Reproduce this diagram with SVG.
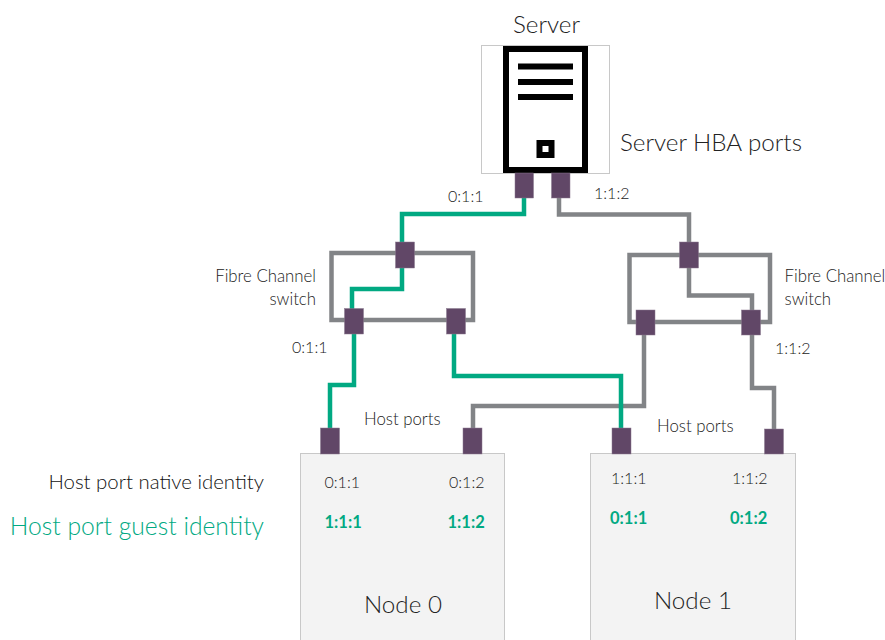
<svg xmlns="http://www.w3.org/2000/svg" width="885" height="640" viewBox="0 0 885 640">
<style>
text{font-family:"Lato","Open Sans","Liberation Sans",sans-serif;font-weight:300;fill:#222}
.l{font-size:24.200px}.m{font-size:16.800px}.d{font-size:16px}.g{fill:#01a982;font-weight:700;font-size:16.500px}
.c{fill:none;stroke-width:4.500}.gr{stroke:#01a982}.gy{stroke:#828487}
.p{fill:#614767;stroke:#8a7a8e;stroke-width:.5}
.n{fill:#f3f3f3;stroke:#c8c8c8;stroke-width:1}
</style>
<rect width="885" height="640" fill="#fff"/>
<g id="node0"><rect class="n" x="300.500" y="453.500" width="204" height="190"/>
<text class="d" x="324.500" y="487.500">0:1:1</text><text class="d" x="449" y="487.500">0:1:2</text>
<text class="g" x="324.500" y="527.500">1:1:1</text><text class="g" x="447.500" y="527.500">1:1:2</text>
<text class="l" x="364" y="612.500">Node 0</text></g>
<g id="node1"><rect class="n" x="590.500" y="453.500" width="205" height="190"/>
<text class="d" x="611" y="483.500">1:1:1</text><text class="d" x="732" y="483.500">1:1:2</text>
<text class="g" x="610" y="523.500">0:1:1</text><text class="g" x="730" y="523.500">0:1:2</text>
<text class="l" x="654" y="608.500">Node 1</text></g>
<g id="server"><text class="l" x="513" y="32.500">Server</text>
<rect x="481.500" y="45.500" width="128" height="128" fill="#fff" stroke="#c8c8c8"/>
<rect x="506" y="49" width="79" height="121" fill="#fff" stroke="#000" stroke-width="6"/>
<path d="M518 66.500H573M518 82H573M518 97H573" stroke="#000" stroke-width="6" fill="none"/>
<rect x="536.500" y="140" width="18" height="18" fill="#000"/><rect x="542.500" y="146" width="6" height="6" fill="#fff"/></g>
<g id="connectors">
<path class="c gy" d="M331.500 253H473V320H331.500Z"/>
<path class="c gy" d="M629.500 255H770V322H629.500Z"/>
<path class="c gy" d="M559 198V214.500H689V295.500H752V388H774V429"/>
<path class="c gy" d="M644 335V406H473V428"/>
<path class="c gr" d="M524 198V214H402V289H352V309"/>
<path class="c gr" d="M354 334V385H330V428"/>
<path class="c gr" d="M454 334V376H621V428"/>
</g>
<g id="ports">
<rect class="p" x="515" y="173" width="18.500" height="25"/><rect class="p" x="551.500" y="173" width="18.500" height="25"/>
<rect class="p" x="395.500" y="242" width="19" height="26"/><rect class="p" x="344.500" y="308.500" width="19" height="25.500"/><rect class="p" x="446.500" y="308.500" width="19" height="25.500"/>
<rect class="p" x="679.500" y="242" width="19" height="26"/><rect class="p" x="636" y="310" width="19" height="25"/><rect class="p" x="741.500" y="310" width="19" height="25"/>
<rect class="p" x="320.500" y="428" width="19" height="26"/><rect class="p" x="463" y="428" width="19" height="26"/><rect class="p" x="612" y="428" width="19" height="26"/><rect class="p" x="764.500" y="429" width="19" height="25"/>
</g>
<g id="labels">
<text class="l" x="620" y="150.500">Server HBA ports</text>
<text class="d" x="448" y="201.500">0:1:1</text><text class="d" x="594" y="198.500">1:1:2</text>
<text class="m" x="316" y="281.500" text-anchor="end">Fibre Channel</text><text class="m" x="316" y="304.500" text-anchor="end">switch</text>
<text class="m" x="784.500" y="281.500">Fibre Channel</text><text class="m" x="784.500" y="304.500">switch</text>
<text class="d" x="292" y="352.500">0:1:1</text><text class="d" x="775" y="353.500">1:1:2</text>
<text class="m" x="364" y="424.500">Host ports</text><text class="m" x="657" y="431.500">Host ports</text>
<text style="font-size:20.400px;fill:#111" x="264" y="488.500" text-anchor="end">Host port native identity</text>
<text style="font-size:24.700px;fill:#01a982" x="264" y="534.500" text-anchor="end">Host port guest identity</text>
</g>
</svg>
